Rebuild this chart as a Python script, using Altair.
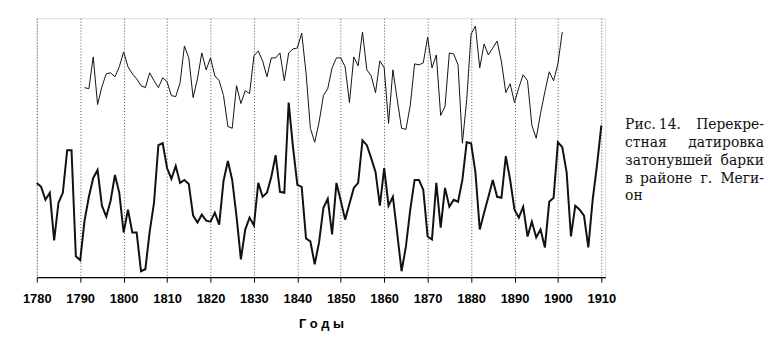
import altair as alt
import pandas as pd

# ---- data (index values, arbitrary units) ----
lower_years = list(range(1780, 1911))
lower_values = [
    117, 113, 100, 107, 59, 97, 107, 150, 150, 43,
    39, 79, 103, 122, 130, 94, 83, 99, 125, 107,
    67, 90, 67, 67, 28, 30, 68, 97, 155, 157,
    132, 121, 134, 117, 120, 116, 84, 77, 85, 79,
    78, 87, 75, 119, 139, 120, 83, 40, 70, 82,
    74, 117, 103, 107, 123, 145, 108, 107, 198, 153,
    115, 113, 61, 58, 35, 57, 92, 101, 65, 117,
    99, 80, 96, 112, 117, 160, 155, 142, 128, 94,
    132, 94, 103, 66, 28, 53, 90, 120, 120, 110,
    63, 60, 117, 72, 112, 93, 100, 98, 120, 158,
    157, 128, 70, 87, 103, 120, 103, 102, 144, 120,
    90, 82, 93, 63, 78, 62, 70, 52, 98, 102,
    158, 153, 128, 63, 94, 90, 84, 52, 100, 135,
    175,
]

upper_years = list(range(1791, 1902))
upper_values = [
    213, 212, 244, 196, 214, 227, 228, 224, 234,
    249, 234, 227, 222, 215, 213, 228, 220, 213, 223,
    219, 205, 204, 218, 255, 243, 203, 222, 248, 231,
    243, 225, 220, 205, 174, 172, 215, 197, 210, 207,
    245, 250, 240, 224, 243, 243, 248, 220, 248, 252,
    253, 268, 228, 172, 158, 178, 205, 212, 233, 243,
    243, 234, 198, 244, 235, 269, 231, 225, 208, 240,
    233, 177, 231, 201, 172, 171, 195, 237, 236, 238,
    264, 233, 246, 185, 194, 248, 247, 236, 157, 201,
    267, 275, 233, 257, 246, 253, 260, 239, 208, 217,
    198, 213, 226, 220, 175, 162, 187, 209, 229, 220,
    237, 269,
]

decade_ticks = list(range(1780, 1911, 10))
axis_title = "Г о д ы"
caption_words = [
    ["Рис.", "14.", "Перекре-"],
    ["стная", "датировка"],
    ["затонувшей", "барки"],
    ["в", "районе", "г.", "Меги-"],
    ["он"],
]

# ---- layout (pixels) ----
W, H = 573, 261
cap_left, cap_right = 593, 733
cap_base = [112, 130, 148, 166, 183]
cap_mid_x = {(0, 1): 627, (3, 1): 608, (3, 2): 669}
serif = "DejaVu Serif"

df_lower = pd.DataFrame({"year": lower_years, "v": lower_values})
df_upper = pd.DataFrame({"year": upper_years, "v": upper_values})

x_scale = alt.Scale(domain=[1780, 1910.9], nice=False, zero=False)
y_scale = alt.Scale(domain=[22, 283], nice=False, zero=False)

x_axis = alt.Axis(
    values=decade_ticks, format="d", title=axis_title,
    grid=True, gridDash=[1, 2], gridColor="#555", gridWidth=1,
    tickSize=5, tickColor="#000", domainColor="#000", domainWidth=1.2,
    labelFont="Liberation Sans", labelFontWeight="bold", labelFontSize=13,
    labelColor="#000", labelPadding=11, labelFlush=False, labelOverlap=False,
    labelBound=False,
    titleFont="Liberation Sans", titleFontWeight="bold", titleFontSize=13,
    titleColor="#000", titlePadding=12,
)

upper = alt.Chart(df_upper).mark_line(color="#111", strokeWidth=1).encode(
    x=alt.X("year:Q", scale=x_scale, axis=x_axis),
    y=alt.Y("v:Q", scale=y_scale, axis=None),
)
lower = alt.Chart(df_lower).mark_line(color="#111", strokeWidth=2).encode(
    x=alt.X("year:Q", scale=x_scale, axis=x_axis),
    y=alt.Y("v:Q", scale=y_scale, axis=None),
)

dummy = pd.DataFrame({"a": [0]})
texts = []
for li, words in enumerate(caption_words):
    n = len(words)
    for wi, w in enumerate(words):
        if wi == 0:
            xpos, al = cap_left, "left"
        elif wi == n - 1:
            xpos, al = cap_right, "right"
        else:
            xpos, al = cap_mid_x[(li, wi)], "left"
        texts.append(
            alt.Chart(dummy).mark_text(
                text=w, align=al, baseline="alphabetic",
                font=serif, fontSize=14, color="#111",
            ).encode(x=alt.value(xpos), y=alt.value(cap_base[li]))
        )

chart = alt.layer(upper, lower, *texts).properties(
    width=W, height=H,
    autosize=alt.AutoSizeParams(type="none"),
    padding={"left": 29, "top": 9, "right": 160, "bottom": 57},
).configure_view(stroke="#444", strokeWidth=1).configure(background="white")

chart.save("out.html", embed_options={"renderer": "svg", "actions": False})
